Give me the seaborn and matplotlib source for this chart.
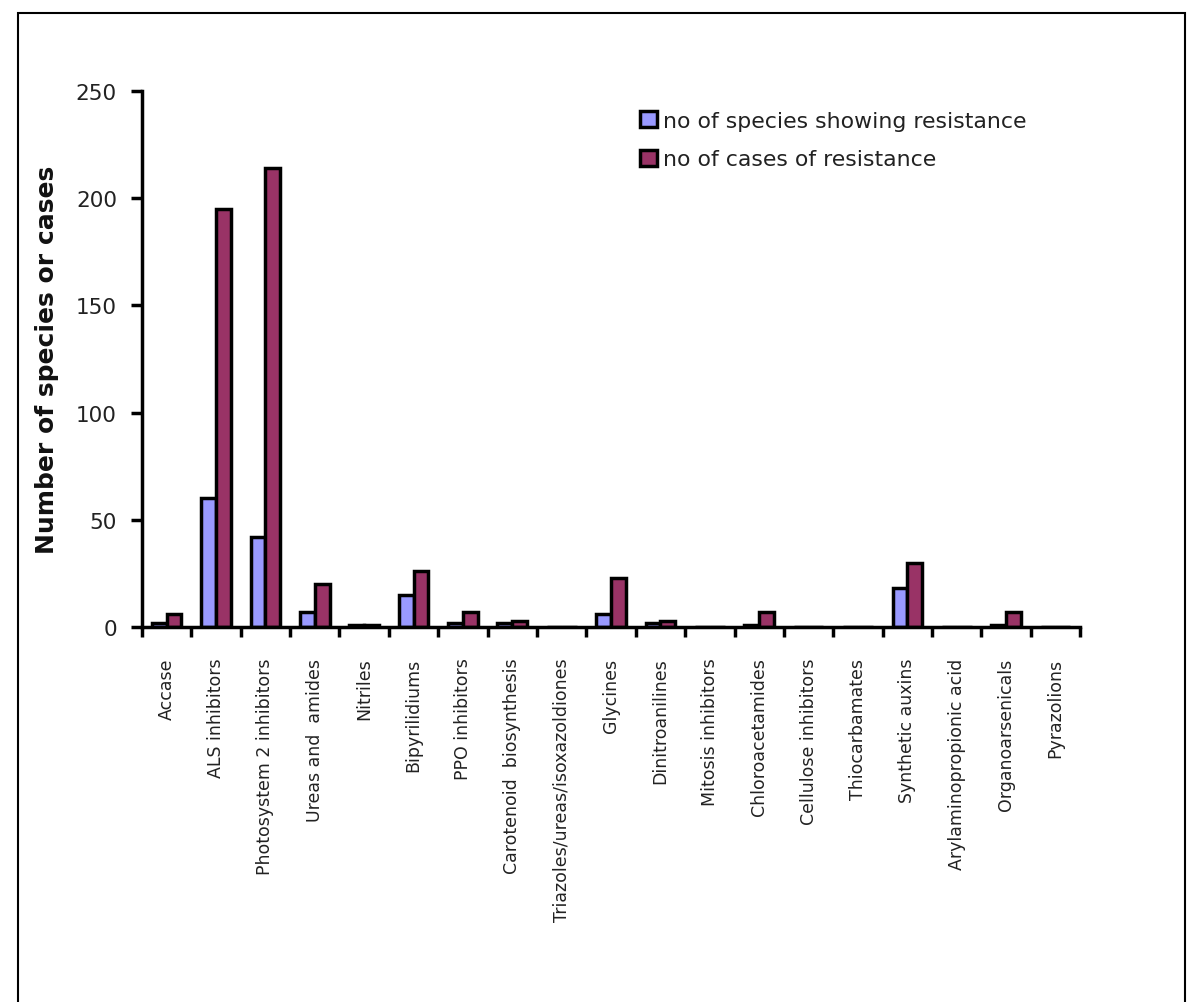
import matplotlib
matplotlib.use('Agg')
import matplotlib.pyplot as plt
import seaborn as sns
import pandas as pd
import numpy as np
from matplotlib.patches import Rectangle

# -- Data --------------------------------------------------------------------
categories = [
    'Accase', 'ALS inhibitors', 'Photosystem 2 inhibitors', 'Ureas and  amides',
    'Nitriles', 'Bipyrilidiums', 'PPO inhibitors', 'Carotenoid  biosynthesis',
    'Triazoles/ureas/isoxazoldiones', 'Glycines', 'Dinitroanilines',
    'Mitosis inhibitors', 'Chloroacetamides', 'Cellulose inhibitors',
    'Thiocarbamates', 'Synthetic auxins', 'Arylaminopropionic acid',
    'Organoarsenicals', 'Pyrazolions',
]
species = [2, 60, 42, 7, 1, 15, 2, 2, 0, 6, 2, 0, 1, 0, 0, 18, 0, 1, 0]
cases   = [6, 195, 214, 20, 1, 26, 7, 3, 0, 23, 3, 0, 7, 0, 0, 30, 0, 7, 0]
series_names = ['no of species showing resistance', 'no of cases of resistance']
y_ticks = [0, 50, 100, 150, 200, 250]

df = pd.DataFrame({
    'category': categories * 2,
    'value': species + cases,
    'series': [series_names[0]] * len(categories) + [series_names[1]] * len(categories),
})

# -- Plot --------------------------------------------------------------------
sns.set_style('white')
plt.rcParams['font.family'] = ['DejaVu Sans']

fig = plt.figure(figsize=(11.87, 10.03), dpi=100)
ax = fig.add_axes([0.1196, 0.3739, 0.7904, 0.5344])

palette = {series_names[0]: '#9999FF', series_names[1]: '#993366'}
sns.barplot(data=df, x='category', y='value', hue='series', order=categories,
            hue_order=series_names, palette=palette, width=0.6,
            edgecolor='black', linewidth=2.5, saturation=1, ax=ax)

ax.set_xlim(-0.5, len(categories) - 0.5)
ax.set_ylim(0, 250)
ax.set_yticks(y_ticks)
ax.tick_params(axis='y', direction='out', length=8, width=2.5, labelsize=15.5,
               color='black', labelcolor='#222222', pad=10, left=True)
ax.set_xticks(range(len(categories)))
ax.set_xticklabels(categories, rotation=90, ha='center', va='top', fontsize=12.5,
                   color='#222222')
ax.tick_params(axis='x', length=0, pad=22)
ax.set_xticks(np.arange(-0.5, len(categories) + 0.5, 1), minor=True)
ax.tick_params(axis='x', which='minor', direction='out', length=7, width=2.5,
               color='black', bottom=True)
ax.set_xlabel('')
ax.set_ylabel('Number of species or cases', fontsize=18, fontweight='bold',
              labelpad=12, color='#111111')

for side in ['top', 'right']:
    ax.spines[side].set_visible(False)
for side in ['left', 'bottom']:
    ax.spines[side].set_linewidth(2.5)
    ax.spines[side].set_color('black')

leg = ax.legend(loc='upper left', bbox_to_anchor=(0.51, 1.0), frameon=False,
                fontsize=15.8, handlelength=0.75, handleheight=0.75, handletextpad=0.3,
                labelspacing=0.85)
for h in leg.legend_handles:
    h.set_linewidth(2.5)
for t in leg.get_texts():
    t.set_color('#222222')

# figure border
fig.patches.append(Rectangle((0.015, -0.01), 0.983, 0.996, transform=fig.transFigure,
                             fill=False, edgecolor='black', linewidth=1.5))

fig.savefig('out.png', dpi=100)
